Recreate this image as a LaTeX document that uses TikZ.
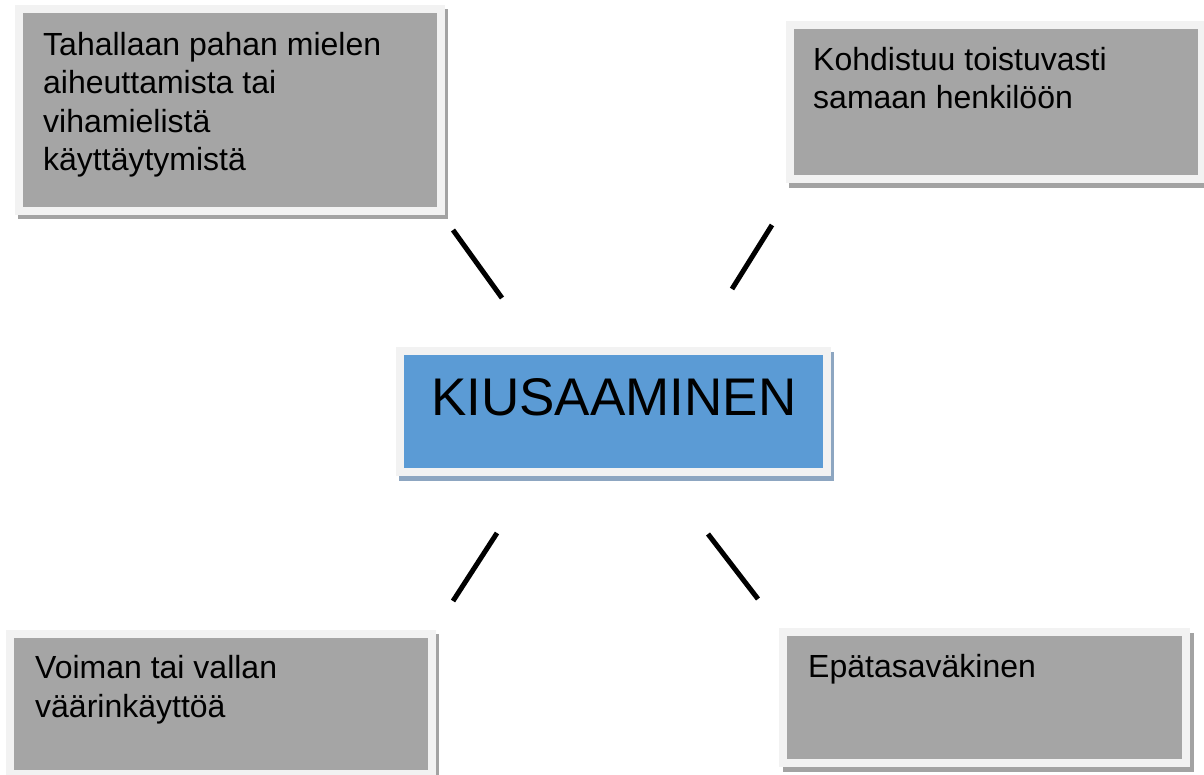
\documentclass[tikz,border=0pt]{standalone}
\usepackage{fontspec}
\setmainfont{Liberation Sans}
\usetikzlibrary{backgrounds}
\definecolor{boxgray}{HTML}{A5A5A5}
\definecolor{framegray}{HTML}{F2F2F2}
\definecolor{shadowgray}{HTML}{A3A3A3}
\definecolor{boxblue}{HTML}{5B9BD5}
\definecolor{shadowblue}{HTML}{8DA6C1}
\begin{document}
\begin{tikzpicture}[x=1pt,y=-1pt,
  framebox/.style={rectangle, draw=framegray, line width=8pt, fill=boxgray, inner sep=0pt},
  bluebox/.style={framebox, fill=boxblue},
  boxtext/.style={anchor=base west, inner sep=0pt, align=left, font=\fontsize{32}{38.5}\selectfont},
  connector/.style={line width=5pt}
]
\useasboundingbox (0,0) rectangle (1204,775);
% boxes
\node[framebox, minimum width=422pt, minimum height=202pt] (b1) at (230,110) {};
\node[framebox, minimum width=412pt, minimum height=154pt] (b2) at (996,102) {};
\node[bluebox, minimum width=427pt, minimum height=121pt] (c) at (613.5,411.5) {};
\node[framebox, minimum width=422pt, minimum height=140pt] (b3) at (221,704) {};
\node[framebox, minimum width=403pt, minimum height=131pt] (b4) at (984.5,697.5) {};
% shadows
\begin{pgfonlayer}{background}
\fill[shadowgray] ([shift={(3,4)}]b1.north west) rectangle ([shift={(3,4)}]b1.south east);
\fill[shadowgray] ([shift={(3,5)}]b2.north west) rectangle ([shift={(3,5)}]b2.south east);
\fill[shadowblue] ([shift={(3,5)}]c.north west) rectangle ([shift={(3,5)}]c.south east);
\fill[shadowgray] ([shift={(3,4)}]b3.north west) rectangle ([shift={(3,4)}]b3.south east);
\fill[shadowgray] ([shift={(4,5)}]b4.north west) rectangle ([shift={(4,5)}]b4.south east);
\end{pgfonlayer}
% texts (base anchor = baseline of the last line)
\node[boxtext] (t1) at ([shift={(28,166)}]b1.north west) {Tahallaan pahan mielen\\aiheuttamista tai\\vihamielistä\\käyttäytymistä};
\node[boxtext] (t2) at ([shift={(27,88)}]b2.north west) {Kohdistuu toistuvasti\\samaan henkilöön};
\node[anchor=base west, inner sep=0pt, font=\fontsize{53}{60}\selectfont] (tc) at (431,415) {KIUSAAMINEN};
\node[boxtext] (t3) at ([shift={(29,87)}]b3.north west) {Voiman tai vallan\\väärinkäyttöä};
\node[boxtext] (t4) at ([shift={(29,49)}]b4.north west) {Epätasaväkinen};
% connectors
\coordinate (l1a) at (453,230); \coordinate (l1b) at (502,298);
\coordinate (l2a) at (772,225); \coordinate (l2b) at (732,289);
\coordinate (l3a) at (497,533); \coordinate (l3b) at (453,601);
\coordinate (l4a) at (708,534); \coordinate (l4b) at (758,599);
\draw[connector] (l1a) -- (l1b);
\draw[connector] (l2a) -- (l2b);
\draw[connector] (l3a) -- (l3b);
\draw[connector] (l4a) -- (l4b);
\end{tikzpicture}
\end{document}
